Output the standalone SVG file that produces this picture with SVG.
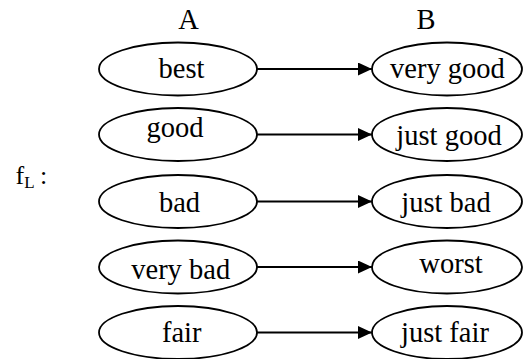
<svg xmlns="http://www.w3.org/2000/svg" width="523" height="359" viewBox="0 0 523 359">
<style>
text{font-family:"Liberation Serif","Times New Roman",serif;fill:#000}
.t{font-size:28.5px;text-anchor:middle}
.e{fill:#fff;stroke:#000;stroke-width:1.8}
.c{stroke:#000;stroke-width:1.8;fill:none}
</style>
<defs>
<marker id="ah" markerUnits="userSpaceOnUse" markerWidth="15" markerHeight="13" refX="14" refY="6.5" orient="auto">
<path d="M0,0 L14,6.5 L0,13 Z" fill="#000"/>
</marker>
</defs>
<rect width="523" height="359" fill="#fff"/>
<text class="t" x="188.5" y="29">A</text>
<text class="t" x="426" y="29">B</text>
<text x="15.5" y="184" style="font-size:26px">f<tspan dy="4" style="font-size:17px">L</tspan></text>
<text x="40" y="184" style="font-size:26px">:</text>
<g id="connectors">
<line class="c" x1="257" y1="69" x2="372" y2="69" marker-end="url(#ah)"/>
<line class="c" x1="257" y1="134.5" x2="372" y2="134.5" marker-end="url(#ah)"/>
<line class="c" x1="257" y1="201.5" x2="372" y2="201.5" marker-end="url(#ah)"/>
<line class="c" x1="257" y1="267" x2="372" y2="267" marker-end="url(#ah)"/>
<line class="c" x1="257" y1="332.5" x2="372" y2="332.5" marker-end="url(#ah)"/>
</g>
<g id="a_best"><ellipse class="e" cx="178" cy="69" rx="79" ry="26.5"/><text class="t" x="181.5" y="78">best</text></g>
<g id="a_good"><ellipse class="e" cx="178" cy="134.5" rx="79" ry="26.5"/><text class="t" x="175" y="136.7">good</text></g>
<g id="a_bad"><ellipse class="e" cx="178" cy="201.5" rx="79" ry="26.5"/><text class="t" x="179.5" y="211.7">bad</text></g>
<g id="a_verybad"><ellipse class="e" cx="178" cy="267" rx="79" ry="26.5"/><text class="t" x="180.7" y="279.3">very bad</text></g>
<g id="a_fair"><ellipse class="e" cx="178" cy="332.5" rx="79" ry="26.5"/><text class="t" x="181.7" y="341.7">fair</text></g>
<g id="b_verygood"><ellipse class="e" cx="447" cy="69" rx="75" ry="26.5"/><text class="t" x="447.5" y="78">very good</text></g>
<g id="b_justgood"><ellipse class="e" cx="447" cy="134.5" rx="75" ry="26.5"/><text class="t" x="449" y="145">just good</text></g>
<g id="b_justbad"><ellipse class="e" cx="447" cy="201.5" rx="75" ry="26.5"/><text class="t" x="446" y="211.7">just bad</text></g>
<g id="b_worst"><ellipse class="e" cx="447" cy="267" rx="75" ry="26.5"/><text class="t" x="451" y="273.3">worst</text></g>
<g id="b_justfair"><ellipse class="e" cx="447" cy="332.5" rx="75" ry="26.5"/><text class="t" x="445" y="341.7">just fair</text></g>
</svg>
